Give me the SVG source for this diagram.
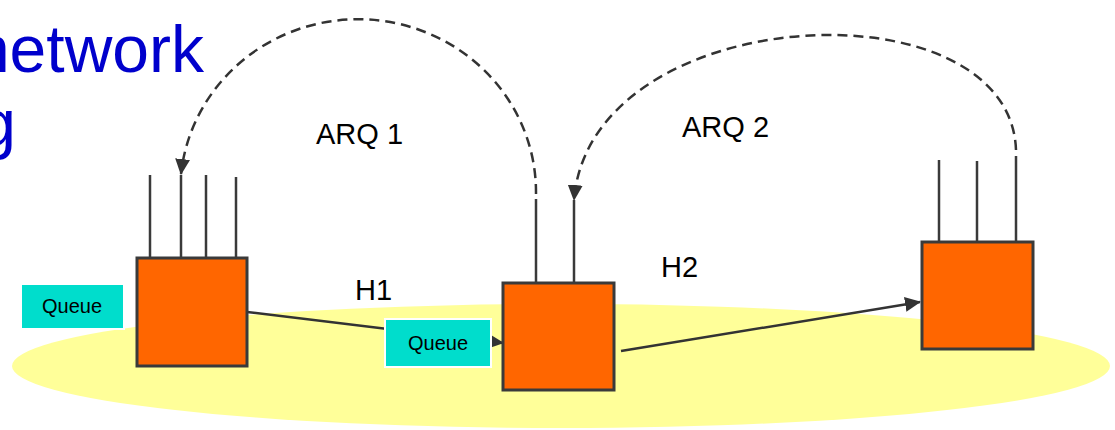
<svg xmlns="http://www.w3.org/2000/svg" width="1115" height="430" viewBox="0 0 1115 430">
<style>
.title{font-family:"Liberation Sans",Arial,sans-serif;font-size:66px;fill:#0000CC}
.lbl{font-family:"Liberation Sans",Arial,sans-serif;font-size:29px;fill:#000}
.qt{font-family:"Liberation Sans",Arial,sans-serif;font-size:20px;fill:#000;text-anchor:middle}
.box{fill:#FF6600;stroke:#3a3a3a;stroke-width:3}
.q{fill:#00DDCC;stroke:#fff;stroke-width:2}
.ant{stroke:#3a3a3a;stroke-width:2.5;fill:none}
.ln{stroke:#333;stroke-width:2.5;fill:none}
.dash{stroke:#333;stroke-width:2.5;fill:none;stroke-dasharray:10 6}
</style>
<defs>
<marker id="arr" viewBox="0 0 16 15" refX="15" refY="7.5" markerWidth="16" markerHeight="15" markerUnits="userSpaceOnUse" orient="auto">
<path d="M0,0 L16,7.5 L0,15 Z" fill="#333"/>
</marker>
</defs>
<rect width="1115" height="430" fill="#fff"/>
<ellipse cx="561" cy="366" rx="549" ry="62" fill="#FFFF99"/>
<g id="title">
<text class="title" x="204" y="72" text-anchor="end">network</text>
<text class="title" x="16" y="146" text-anchor="end">g</text>
</g>
<g id="connectors">
<line class="ln" x1="247" y1="312" x2="503" y2="343" marker-end="url(#arr)"/>
<line class="ln" x1="621" y1="351" x2="920" y2="302" marker-end="url(#arr)"/>
<path class="dash" d="M536,194 A178,173 0 0 0 181,174" marker-end="url(#arr)"/>
<path class="dash" d="M1016,150 C1010,-20 590,0 574,200" marker-end="url(#arr)"/>
</g>
<g id="node1">
<line class="ant" x1="150" y1="175" x2="150" y2="258"/>
<line class="ant" x1="181" y1="175" x2="181" y2="258"/>
<line class="ant" x1="206" y1="175" x2="206" y2="258"/>
<line class="ant" x1="236" y1="177" x2="236" y2="258"/>
<rect class="box" x="137" y="258" width="110" height="108"/>
</g>
<g id="node2">
<line class="ant" x1="536" y1="199" x2="536" y2="283"/>
<line class="ant" x1="574" y1="200" x2="574" y2="283"/>
<rect class="box" x="503" y="283" width="111" height="107"/>
</g>
<g id="node3">
<line class="ant" x1="939" y1="160" x2="939" y2="242"/>
<line class="ant" x1="977" y1="161" x2="977" y2="242"/>
<line class="ant" x1="1016" y1="156" x2="1016" y2="242"/>
<rect class="box" x="922" y="242" width="111" height="107"/>
</g>
<g id="queue1">
<rect class="q" x="21" y="284" width="103" height="45"/>
<text class="qt" x="72" y="313">Queue</text>
</g>
<g id="queue2">
<rect class="q" x="385" y="319" width="106" height="48"/>
<text class="qt" x="438" y="350">Queue</text>
</g>
<g id="labels">
<text class="lbl" x="316" y="144">ARQ 1</text>
<text class="lbl" x="682" y="137">ARQ 2</text>
<text class="lbl" x="355" y="300">H1</text>
<text class="lbl" x="661" y="277">H2</text>
</g>
</svg>
